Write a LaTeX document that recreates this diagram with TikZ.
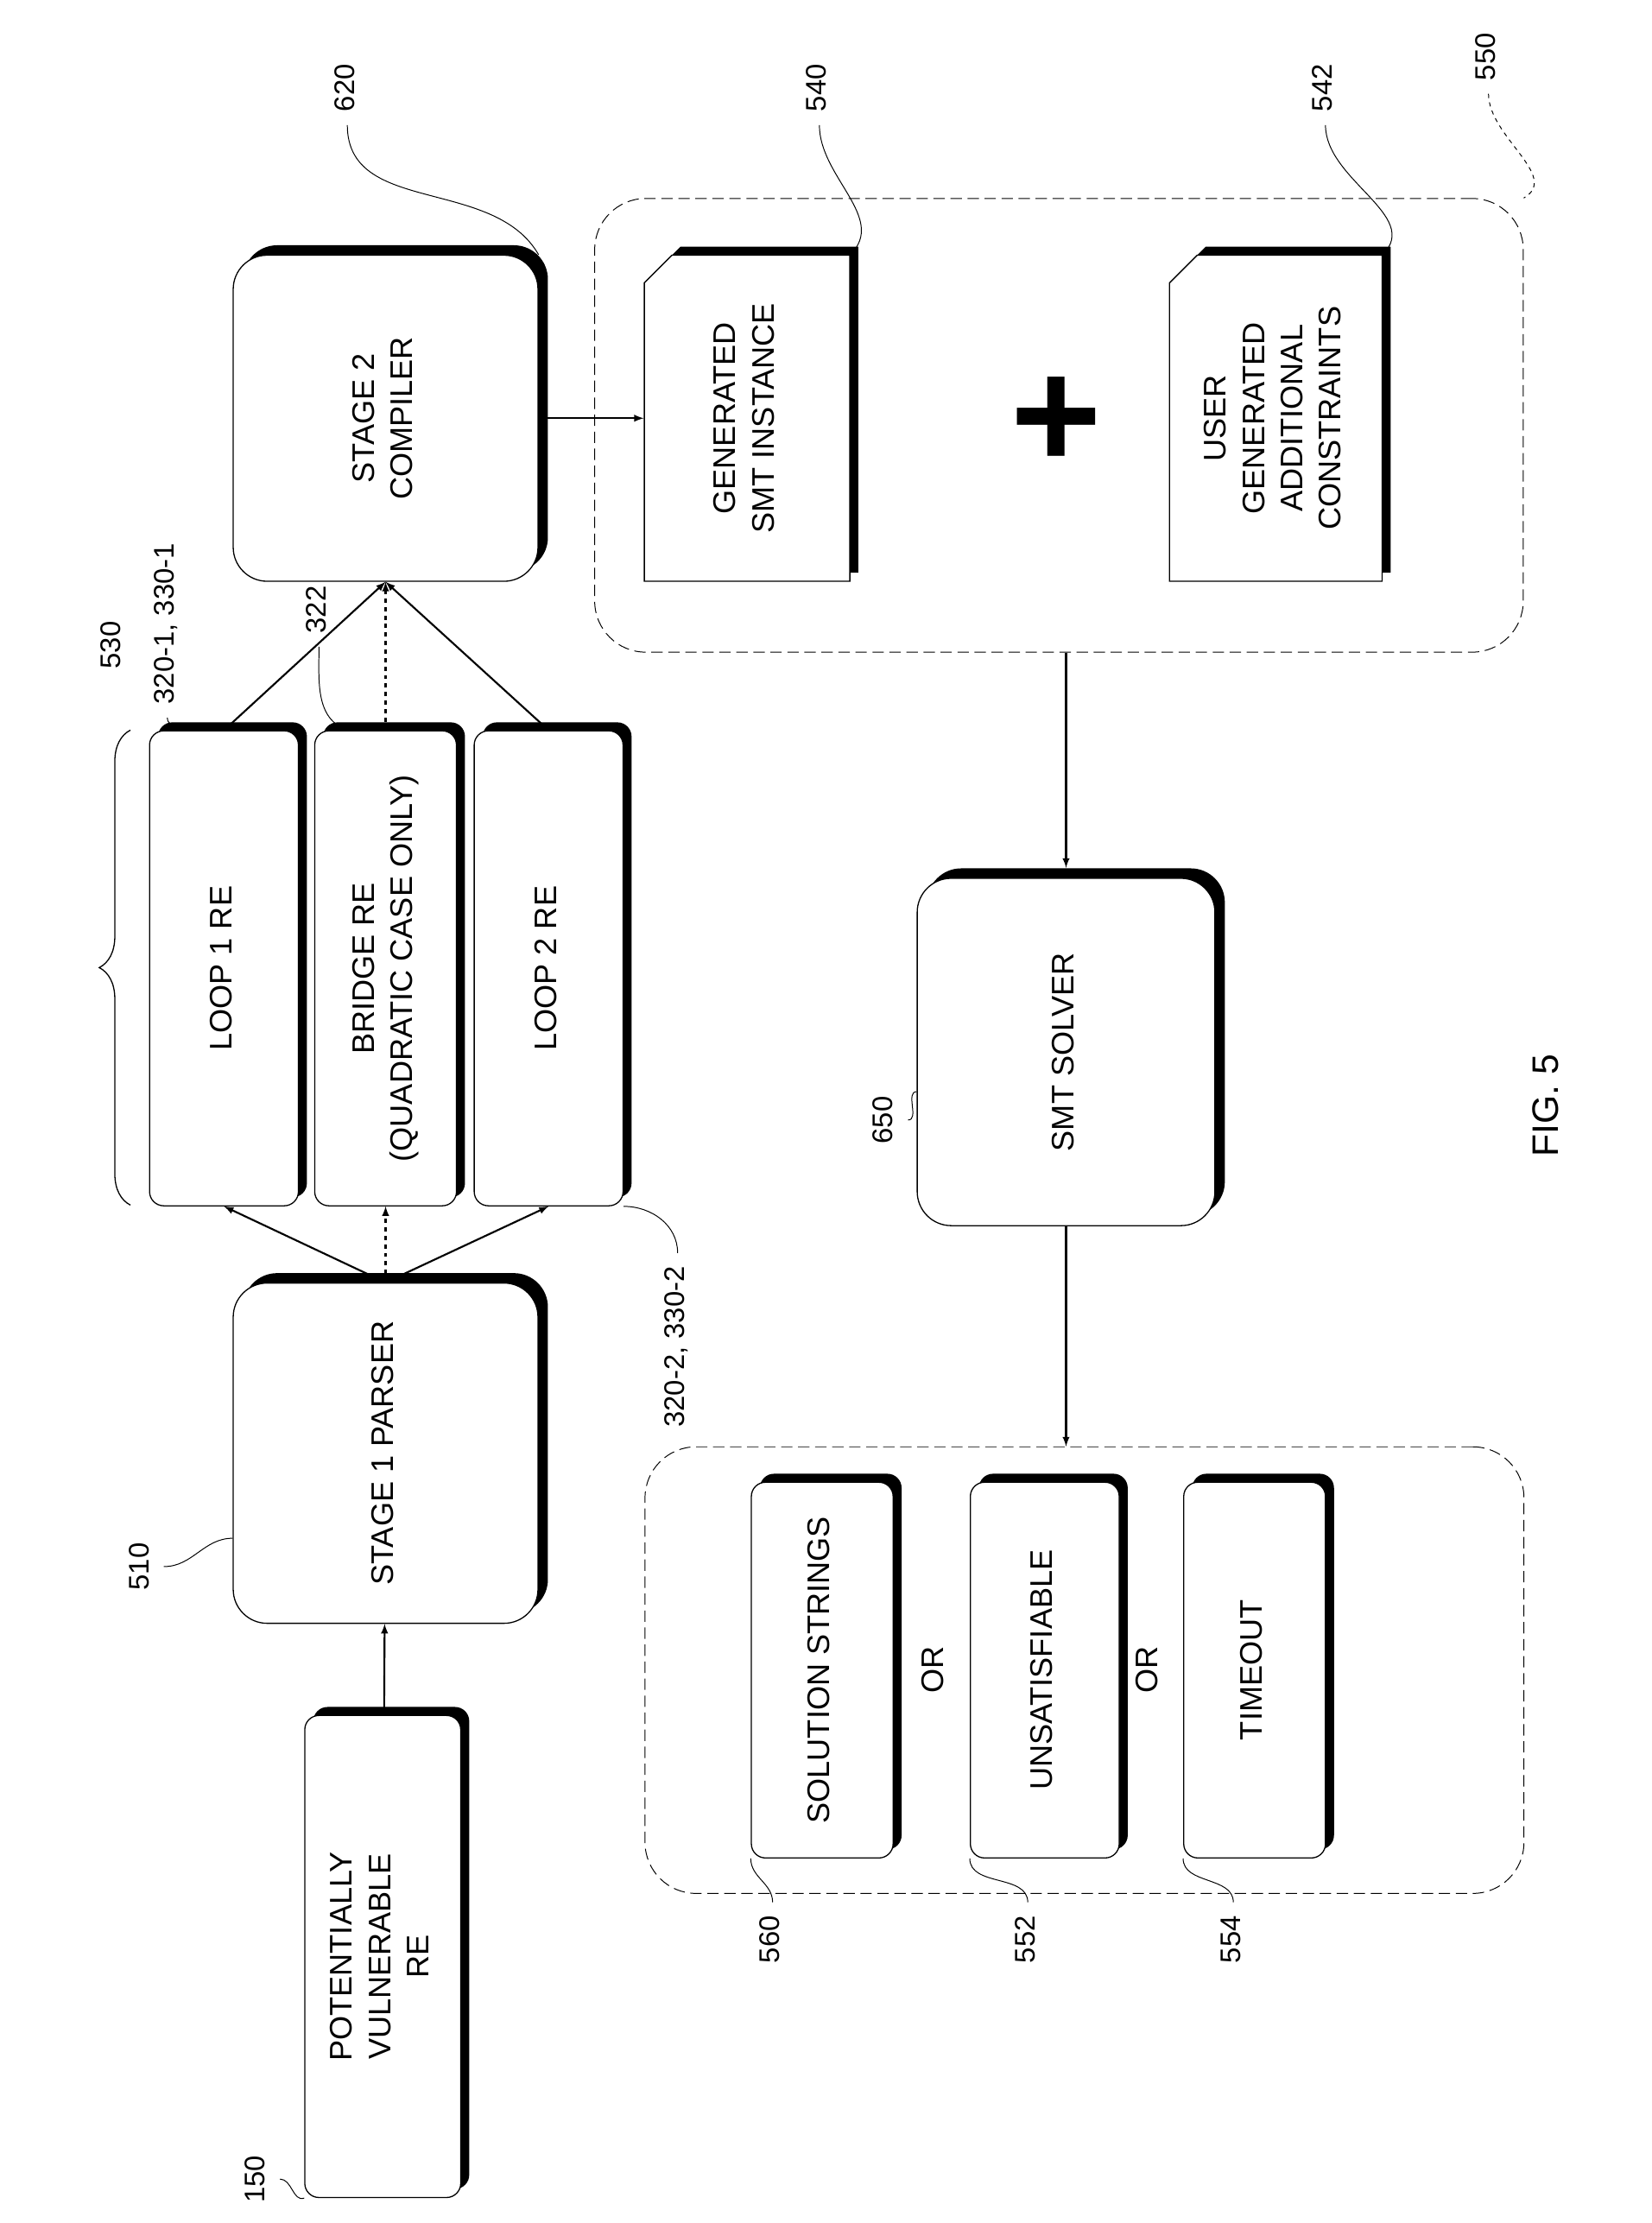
\documentclass[tikz,border=0pt]{standalone}
\usepackage{fontspec}
\setmainfont{Liberation Sans}
\usetikzlibrary{shadows,shapes.misc,decorations.pathreplacing,positioning}

\tikzset{
  rbox/.style={draw, thick, fill=white, rounded corners=24pt, align=center,
    drop shadow={shadow xshift=7pt, shadow yshift=7pt, fill=black, opacity=1}},
  slab/.style={draw, thick, fill=white, rounded corners=10pt, align=center,
    drop shadow={shadow xshift=6pt, shadow yshift=6pt, fill=black, opacity=1}},
  doc/.style={draw, thick, fill=white, chamfered rectangle, chamfered rectangle corners=north west,
    chamfered rectangle xsep=16pt, align=center, inner sep=0pt,
    drop shadow={shadow xshift=6pt, shadow yshift=6pt, fill=black, opacity=1}},
  group/.style={draw, semithick, dash pattern=on 8pt off 4pt, rounded corners=36pt},
  connect/.style={-latex, line width=1.3pt},
  lbl/.style={font=\fontsize{20}{24}\selectfont},
  lead/.style={semithick}
}
\newcommand{\rt}[1]{\rotatebox{90}{\begin{tabular}{c}#1\end{tabular}}}

\begin{document}
\begin{tikzpicture}[x=1pt, y=-1pt, font=\fontsize{22}{27}\selectfont]
\useasboundingbox (0,0) rectangle (1165,1568);
% main boxes
\node[slab, minimum width=110pt, minimum height=340pt] (vuln) at (270,1380) {\rt{POTENTIALLY\\VULNERABLE\\RE}};
\node[rbox, minimum width=215pt, minimum height=240pt] (parser) at (272,1025) {\rt{STAGE 1 PARSER}};
\node[slab, minimum width=105pt, minimum height=335pt] (loopa) at (158,683) {\rt{LOOP 1 RE}};
\node[slab, minimum width=100pt, minimum height=335pt] (bridge) at (272,683) {\rt{BRIDGE RE\\(QUADRATIC CASE ONLY)}};
\node[slab, minimum width=105pt, minimum height=335pt] (loopb) at (387,683) {\rt{LOOP 2 RE}};
\node[rbox, minimum width=215pt, minimum height=230pt] (compiler) at (272,295) {\rt{STAGE 2\\COMPILER}};
\node[group, minimum width=655pt, minimum height=320pt] (smtgrp) at (747,300) {};
\node[doc, minimum width=145pt, minimum height=230pt] (inst) at (527,295) {\rt{GENERATED\\SMT INSTANCE}};
\node[font=\fontsize{110}{110}\selectfont\bfseries] (plus) at (745,298) {+};
\node[doc, minimum width=150pt, minimum height=230pt] (user) at (900,295) {\rt{USER\\GENERATED\\ADDITIONAL\\CONSTRAINTS}};
\node[rbox, minimum width=210pt, minimum height=245pt] (solver) at (752,742) {\rt{SMT SOLVER}};
\node[group, minimum width=620pt, minimum height=315pt] (outgrp) at (765,1178) {};
\node[slab, minimum width=100pt, minimum height=265pt] (sol) at (580,1178) {\rt{SOLUTION STRINGS}};
\node[slab, minimum width=105pt, minimum height=265pt] (unsat) at (737,1178) {\rt{UNSATISFIABLE}};
\node[slab, minimum width=100pt, minimum height=265pt] (tout) at (885,1178) {\rt{TIMEOUT}};
\node (ora) at (660,1178) {\rt{OR}};
\node (orb) at (811,1178) {\rt{OR}};
% connectors
\draw[connect] (vuln) -- (parser);
\draw[connect] (parser.north) -- (loopa.south);
\draw[connect, dashed] (parser.north) -- (bridge.south);
\draw[connect] (parser.north) -- (loopb.south);
\draw[connect] (loopa.north) -- (compiler.south);
\draw[connect, dashed] (bridge.north) -- (compiler.south);
\draw[connect] (loopb.north) -- (compiler.south);
\draw[connect] (compiler.east |- inst.west) -- (inst.west);
\draw[connect] (smtgrp.south -| solver.north) -- ([yshift=7pt]solver.north);
\draw[connect] (solver.south) -- (outgrp.north -| solver.south);
% brace
\coordinate (bra) at (92,850);
\coordinate (brb) at (92,515);
\draw[thick, decorate, decoration={brace, amplitude=22pt}] (bra) -- (brb);
% reference labels
\node[lbl] (n530) at (80,455) {\rt{530}};
\node[lbl] (n620) at (245,62) {\rt{620}};
\node[lbl] (n3201) at (118,440) {\rt{320-1, 330-1}};
\node[lbl] (n322) at (225,430) {\rt{322}};
\node[lbl] (n3202) at (478,950) {\rt{320-2, 330-2}};
\node[lbl] (n510) at (100,1105) {\rt{510}};
\node[lbl] (n150) at (182,1537) {\rt{150}};
\node[lbl] (n540) at (578,62) {\rt{540}};
\node[lbl] (n542) at (935,62) {\rt{542}};
\node[lbl] (n550) at (1050,40) {\rt{550}};
\node[lbl] (n650) at (625,790) {\rt{650}};
\node[lbl] (n560) at (545,1368) {\rt{560}};
\node[lbl] (n552) at (725,1368) {\rt{552}};
\node[lbl] (n554) at (870,1368) {\rt{554}};
\node[font=\fontsize{26}{30}\selectfont] (fig) at (1093,780) {\rt{FIG. 5}};
% leaders
\draw[lead] (n620.south) to[out=-90, in=120] (compiler.north east);
\draw[lead] (n3201.south) to[out=-90, in=150] (loopa.north -| 135,0);
\draw[lead] (n322.south) to[out=-90, in=160] (bridge.north -| 245,0);
\draw[lead] (n3202.north) to[out=90, in=0] (loopb.south east);
\draw[lead] (n510.east) to[out=0, in=180] (parser.west |- 0,1085);
\draw[lead] (n150.east) to[out=0, in=200] (vuln.south west);
\draw[lead] (n540.south) to[out=-90, in=45] (inst.north east);
\draw[lead] (n542.south) to[out=-90, in=45] (user.north east);
\draw[lead, dashed] (n550.south) to[out=-90, in=30] (smtgrp.north east);
\draw[lead] (n650.east) to[out=0, in=180] (solver.west |- 0,770);
\draw[lead] (n560.north) to[out=90, in=-90] (sol.south west);
\draw[lead] (n552.north) to[out=90, in=-90] (unsat.south west);
\draw[lead] (n554.north) to[out=90, in=-90] (tout.south west);
\end{tikzpicture}
\end{document}
